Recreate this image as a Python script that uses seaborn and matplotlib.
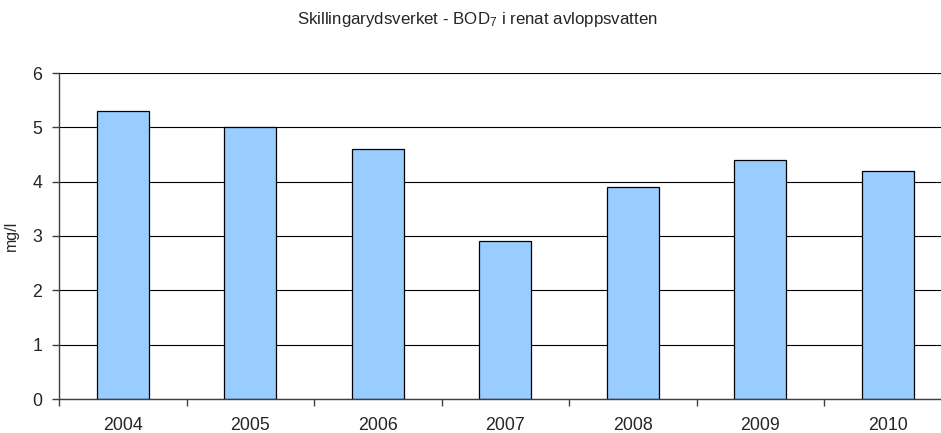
import matplotlib
matplotlib.use('Agg')
import matplotlib.pyplot as plt
import numpy as np
import pandas as pd
import seaborn as sns

# Data
years = ['2004', '2005', '2006', '2007', '2008', '2009', '2010']
bod7 = [5.3, 5.0, 4.6, 2.9, 3.9, 4.4, 4.2]

df = pd.DataFrame({'year': years, 'value': bod7})

sns.set_style('white')
plt.rcParams['font.family'] = ['Liberation Sans', 'DejaVu Sans']
plt.rcParams['mathtext.fontset'] = 'custom'
plt.rcParams['mathtext.rm'] = 'Liberation Sans'
plt.rcParams['mathtext.it'] = 'Liberation Sans'

fig = plt.figure(figsize=(9.41, 4.33), dpi=100)
# plot area runs a little past the right edge of the picture
ax = fig.add_axes([59 / 941, 34 / 433, 892.6 / 941, 326 / 433])

sns.barplot(data=df, x='year', y='value', order=years, color='#99CCFF',
            edgecolor='black', linewidth=0.9, width=0.41, saturation=1, ax=ax)

ax.set_ylim(0, 6)
ax.set_xlim(-0.5, 6.5)
ax.set_yticks(range(0, 7))
ax.yaxis.grid(True, color='black', linewidth=0.8)
ax.set_axisbelow(True)

# ticks between categories
ax.set_xticks(np.arange(-0.5, 7, 1), minor=True)
ax.tick_params(axis='x', which='major', length=0, labelsize=12.8, pad=13)
ax.tick_params(axis='x', which='minor', length=5, width=1, color='#404040',
               direction='out', bottom=True)
ax.tick_params(axis='y', length=5, width=1, color='#404040', direction='out',
               left=True, labelsize=12.8, pad=7)

for side in ['top', 'right']:
    ax.spines[side].set_visible(False)
for side in ['left', 'bottom']:
    ax.spines[side].set_color('#404040')
    ax.spines[side].set_linewidth(1)

ax.set_xlabel('')
ax.set_ylabel('mg/l', fontsize=11.5, labelpad=10)
fig.text(0.507, 0.955, r'Skillingarydsverket - BOD$_{\mathregular{7}}$ i renat avloppsvatten',
         ha='center', va='center', fontsize=12.2)

fig.savefig('out.png', dpi=100)
